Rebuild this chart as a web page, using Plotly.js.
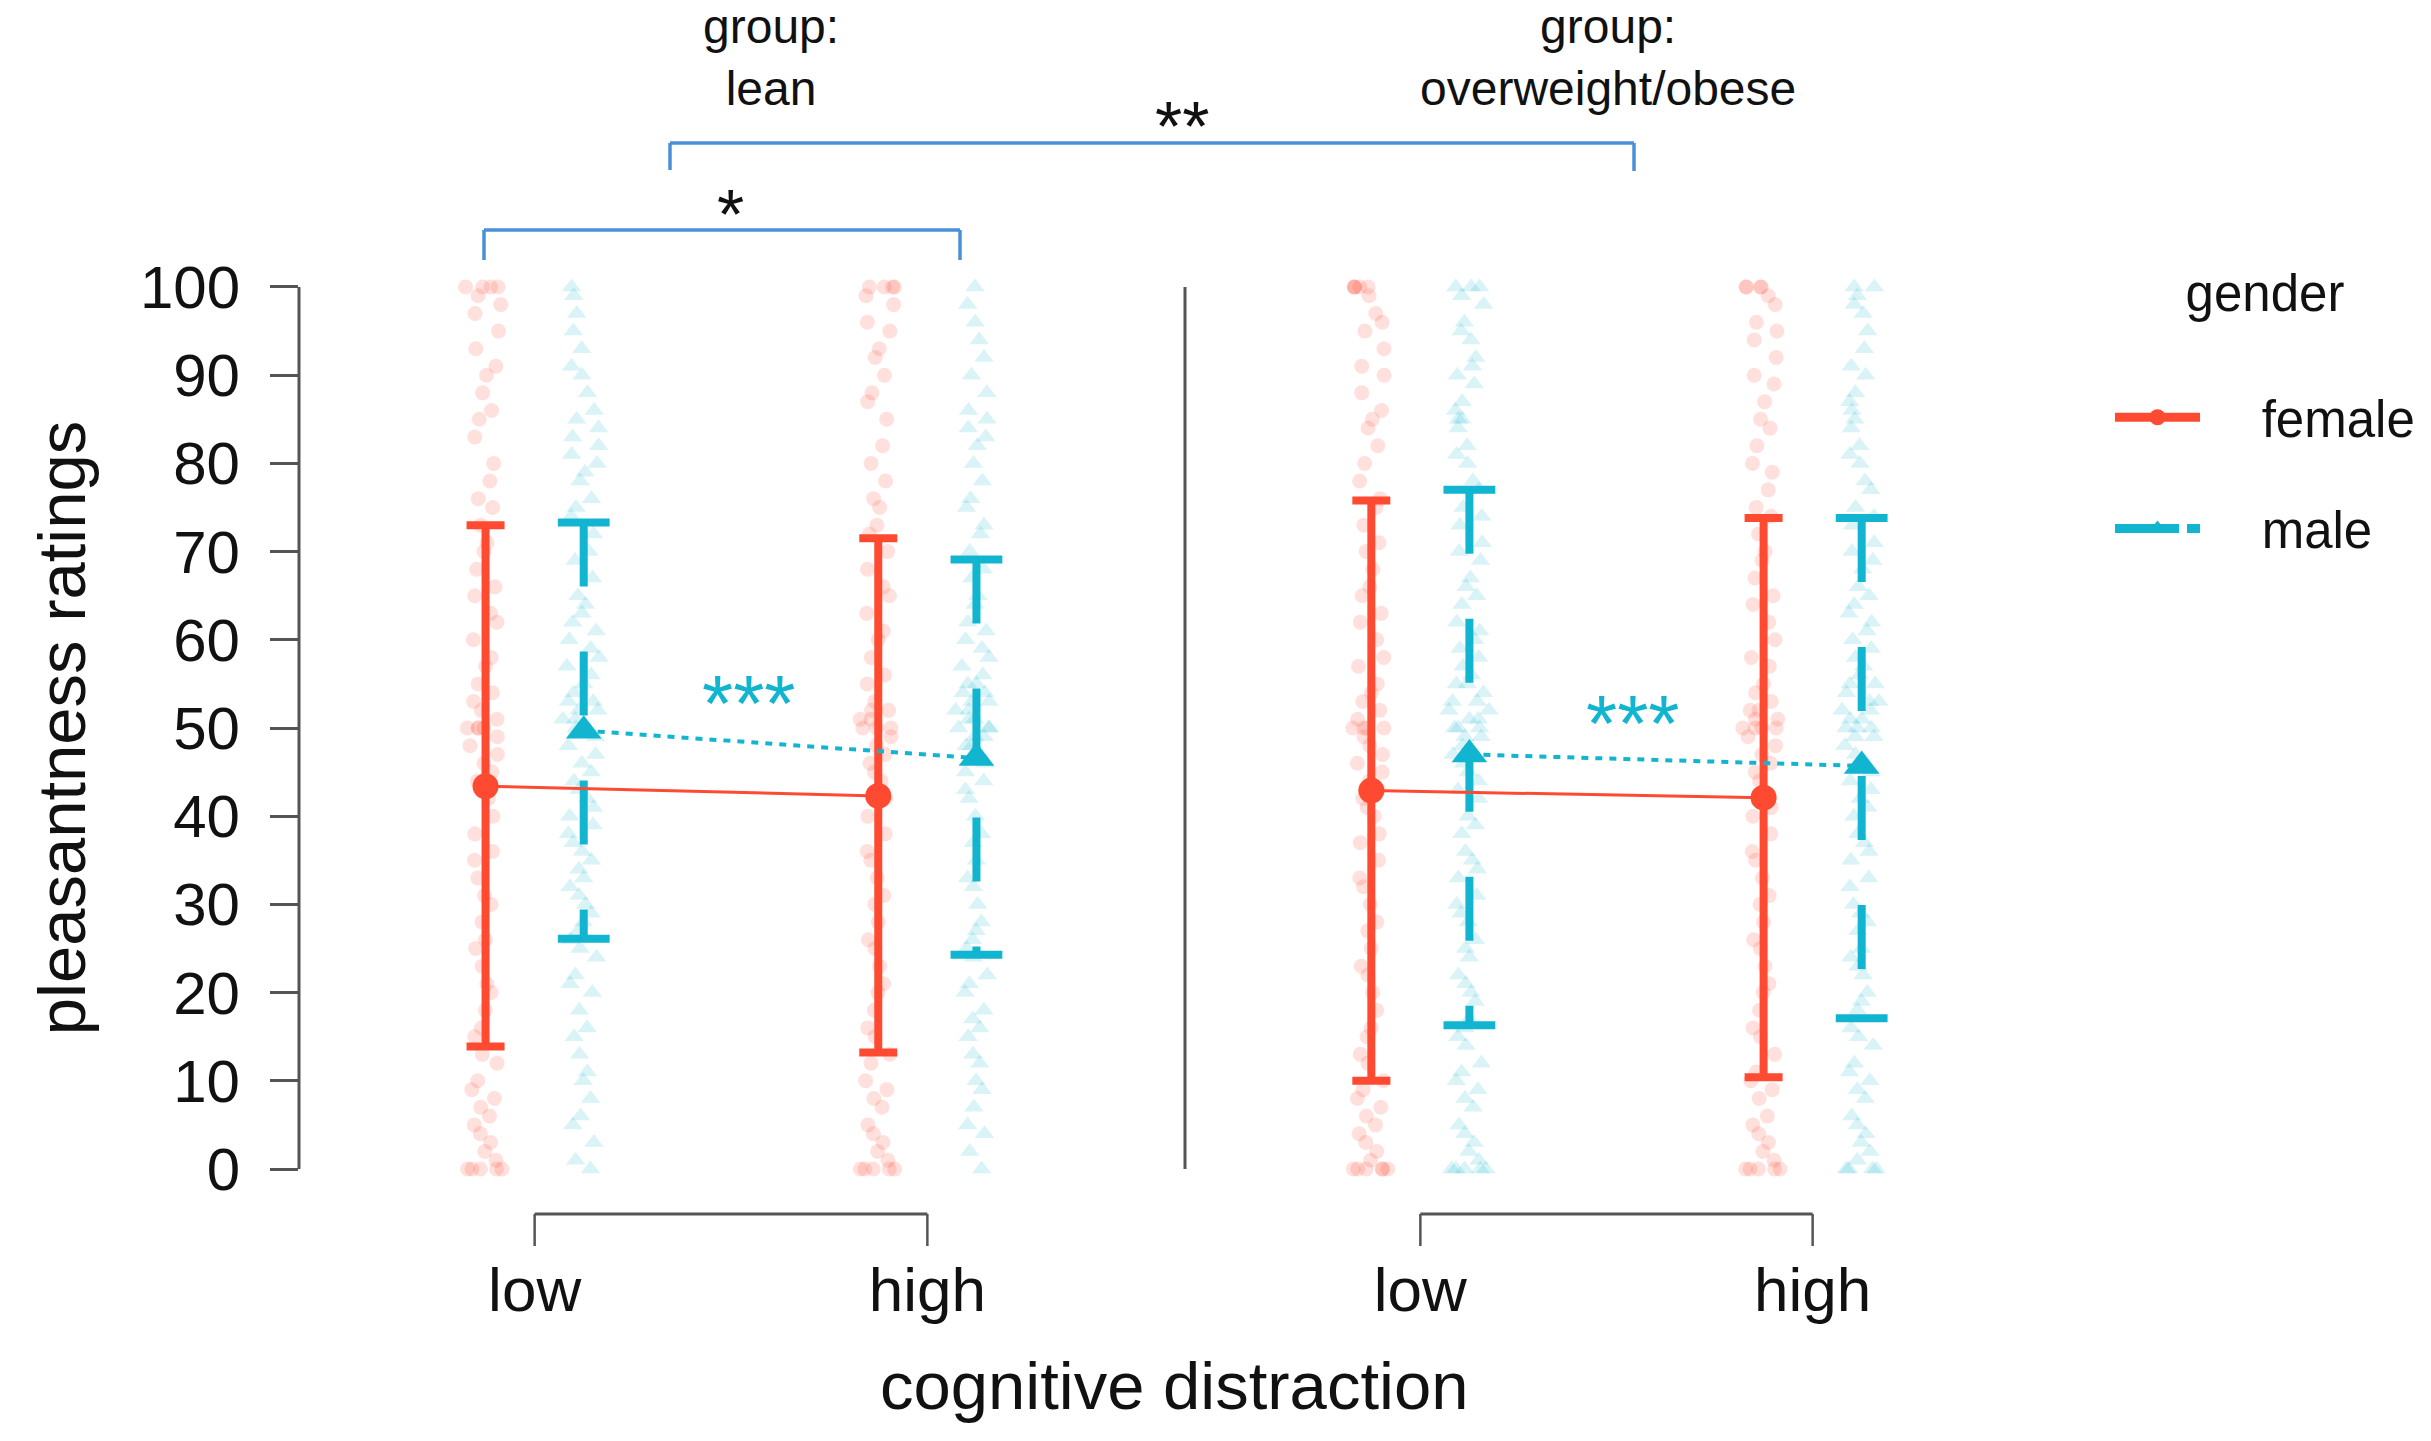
<!DOCTYPE html>
<html>
<head>
<meta charset="utf-8">
<script src="https://cdn.plot.ly/plotly-3.0.1.min.js"></script>
<style>
html,body{margin:0;padding:0;background:#ffffff;}
#chart{width:2431px;height:1441px;}
</style>
</head>
<body>
<div id="chart"></div>
<script>
// ---------- data ----------
const categories = ['low', 'high'];
const catPos = [1, 2];
const panelTitles = ['group:<br>lean', 'group:<br>overweight/obese'];
const yTicks = [0, 10, 20, 30, 40, 50, 60, 70, 80, 90, 100];
const genders = ['female', 'male'];

// means and interval limits, [low, high]
const meanFemaleLean = [43.4, 42.3];
const loFemaleLean = [13.9, 13.2];
const hiFemaleLean = [73.0, 71.5];
const meanMaleLean = [49.7, 46.6];
const loMaleLean = [26.1, 24.3];
const hiMaleLean = [73.3, 69.1];

const meanFemaleObese = [42.9, 42.1];
const loFemaleObese = [10.0, 10.4];
const hiFemaleObese = [75.8, 73.8];
const meanMaleObese = [47.0, 45.7];
const loMaleObese = [16.3, 17.1];
const hiMaleObese = [77.0, 73.8];

// individual ratings (read approximately from the strips)
const ptsFemaleLeanLow = [100,100,100,100,99,98,97,95,93,91,90,88,86,85,83,80,78,76,75,73,71,70,68,66,65,63,62,60,58,57,55,54,53,52,51,50,50,50,50,49,48,47,46,45,44,43,42,40,38,36,35,33,31,30,28,26,25,23,21,20,18,16,15,13,12,10,9,8,7,6,5,4,3,2,1,0,0,0,0,0];
const ptsMaleLeanLow = [100,99,97,95,93,91,90,88,86,85,84,83,82,81,80,79,78,76,75,74,72,70,69,67,65,64,63,62,61,60,59,58,57,56,55,54,53,53,52,52,51,51,50,50,49,48,47,46,45,44,43,42,41,40,39,38,37,36,35,34,33,32,31,30,29,28,27,26,25,24,22,21,20,18,16,15,13,11,10,8,6,5,3,1,0];
const ptsFemaleLeanHigh = [100,100,100,100,99,98,96,95,93,92,90,88,87,85,82,80,78,76,75,73,72,70,68,66,65,63,61,60,58,56,55,53,52,52,51,51,50,50,50,49,48,47,46,45,44,42,40,38,36,35,33,31,30,28,26,25,23,21,20,18,16,15,13,12,10,9,8,7,5,4,3,2,1,0,0,0,0,0];
const ptsMaleLeanHigh = [100,98,96,94,92,90,88,86,85,84,83,82,80,78,76,75,73,72,70,68,67,65,64,62,61,60,59,58,57,56,55,55,54,54,53,53,52,52,51,51,50,50,50,49,49,48,48,47,46,45,44,43,42,40,38,37,35,33,32,30,28,27,26,25,24,22,21,20,18,17,16,15,13,12,10,9,7,5,4,2,0];

const ptsFemaleObeseLow = [100,100,100,100,100,99,97,96,95,93,91,90,88,86,85,84,82,80,78,76,75,73,71,70,68,66,65,63,62,60,58,57,55,54,53,52,51,50,50,50,50,49,48,47,46,45,44,43,42,41,40,38,37,35,33,32,30,28,27,25,23,22,20,18,16,15,13,12,10,9,8,7,6,5,4,3,2,1,0,0,0,0,0,0];
const ptsMaleObeseLow = [100,100,100,99,98,96,95,94,92,91,90,89,87,86,85,85,84,82,81,80,78,77,75,74,73,71,70,69,67,66,65,64,62,61,60,59,58,57,56,55,55,54,53,53,52,52,51,51,50,50,50,49,49,48,47,46,45,44,43,42,40,39,38,36,35,34,33,31,30,29,28,26,25,24,22,21,20,19,17,16,15,14,12,11,10,9,8,7,5,4,3,2,1,0,0,0,0,0];
const ptsFemaleObeseHigh = [100,100,100,100,99,98,96,95,94,92,90,89,87,85,84,82,80,79,77,75,74,72,70,69,67,65,64,62,60,58,57,55,54,53,52,52,51,51,50,50,50,50,49,48,47,46,45,44,42,41,40,38,36,35,33,31,30,28,26,25,23,21,20,18,16,15,13,11,10,9,8,6,5,4,3,2,1,0,0,0,0,0];
const ptsMaleObeseHigh = [100,100,99,98,97,95,93,91,90,88,87,86,85,84,82,81,80,78,77,75,74,73,71,70,69,68,66,65,64,63,62,61,60,59,58,57,56,55,55,54,53,53,52,52,51,51,50,50,50,49,49,48,47,46,45,44,43,42,41,40,38,37,36,35,33,32,30,29,28,27,25,24,23,22,20,19,18,16,15,14,12,11,10,9,8,6,5,4,3,2,1,0,0,0,0];

const sigWithin = '***';
const sigTop = '**';
const sigLower = '*';

// ---------- style ----------
const RED = '#FF4A32';
const CYAN = '#12B5CF';
const BLUE = '#4A90D9';
const AXC = '#555555';
const TXT = '#111111';
const FONT = 'Liberation Sans, Arial, Helvetica, sans-serif';
const DODGE = 0.125;
const W = 2431, H = 1441;
const px = v => v / W;
const py = v => 1 - v / H;
const PAD = '\u00a0\u00a0\u00a0\u00a0';

const traces = [];

function addPanel(xa, fPts, mPts, fMean, fLo, fHi, mMean, mLo, mHi) {
  const fx = catPos.map(p => p - DODGE);
  const mx = catPos.map(p => p + DODGE);
  // jittered raw ratings
  for (let i = 0; i < catPos.length; i++) {
    traces.push({
      type: 'box', x0: fx[i], y: fPts[i], xaxis: xa, yaxis: 'y',
      boxpoints: 'all', jitter: 0.9, pointpos: 0, width: 0.12,
      fillcolor: 'rgba(0,0,0,0)', line: {width: 0, color: 'rgba(0,0,0,0)'},
      marker: {symbol: 'circle', size: 15, color: RED, opacity: 0.17},
      showlegend: false, hoverinfo: 'y'
    });
    traces.push({
      type: 'box', x0: mx[i], y: mPts[i], xaxis: xa, yaxis: 'y',
      boxpoints: 'all', jitter: 0.9, pointpos: 0, width: 0.12,
      fillcolor: 'rgba(0,0,0,0)', line: {width: 0, color: 'rgba(0,0,0,0)'},
      marker: {symbol: 'triangle-up', size: 17, color: CYAN, opacity: 0.16},
      showlegend: false, hoverinfo: 'y'
    });
  }
  // male dashed interval bars
  const bx = [], by = [];
  for (let i = 0; i < catPos.length; i++) {
    bx.push(mx[i], mx[i], null);
    by.push(mHi[i], mLo[i], null);
  }
  traces.push({
    type: 'scatter', mode: 'lines', x: bx, y: by, xaxis: xa, yaxis: 'y',
    line: {color: CYAN, width: 8, dash: '64px,65px'}, showlegend: false, hoverinfo: 'skip'
  });
  // male caps
  const cx = [], cy = [];
  for (let i = 0; i < catPos.length; i++) {
    cx.push(mx[i], mx[i]);
    cy.push(mHi[i], mLo[i]);
  }
  traces.push({
    type: 'scatter', mode: 'markers', x: cx, y: cy, xaxis: xa, yaxis: 'y',
    marker: {symbol: 'line-ew', size: 37, color: CYAN, line: {color: CYAN, width: 8}},
    showlegend: false, hoverinfo: 'y'
  });
  // female means with intervals
  traces.push({
    type: 'scatter', mode: 'lines+markers', x: fx, y: fMean, xaxis: xa, yaxis: 'y',
    line: {color: RED, width: 3},
    marker: {symbol: 'circle', size: 26, color: RED},
    error_y: {type: 'data', symmetric: false,
      array: fHi.map((h, i) => h - fMean[i]),
      arrayminus: fMean.map((m, i) => m - fLo[i]),
      color: RED, thickness: 8, width: 19},
    showlegend: false, legendgroup: genders[0], name: genders[0]
  });
  // male means
  traces.push({
    type: 'scatter', mode: 'lines+markers', x: mx, y: mMean, xaxis: xa, yaxis: 'y',
    line: {color: CYAN, width: 4, dash: '7px,7px'},
    marker: {symbol: 'triangle-up', size: 31, color: CYAN},
    showlegend: false, legendgroup: genders[1], name: genders[1]
  });
}

addPanel('x', [ptsFemaleLeanLow, ptsFemaleLeanHigh], [ptsMaleLeanLow, ptsMaleLeanHigh],
  meanFemaleLean, loFemaleLean, hiFemaleLean, meanMaleLean, loMaleLean, hiMaleLean);
addPanel('x2', [ptsFemaleObeseLow, ptsFemaleObeseHigh], [ptsMaleObeseLow, ptsMaleObeseHigh],
  meanFemaleObese, loFemaleObese, hiFemaleObese, meanMaleObese, loMaleObese, hiMaleObese);

// legend keys
traces.push({type: 'scatter', mode: 'lines+markers', x: [null], y: [null], name: PAD + genders[0],
  legendgroup: genders[0], line: {color: RED, width: 9}, marker: {symbol: 'circle', size: 16, color: RED}});
traces.push({type: 'scatter', mode: 'lines+markers', x: [null], y: [null], name: PAD + genders[1],
  legendgroup: genders[1], line: {color: CYAN, width: 9, dash: '64px,8px'}, marker: {symbol: 'triangle-up', size: 16, color: CYAN}});

// ---------- decorations ----------
const shapes = [];
function seg(x0, y0, x1, y1, color, w, xref, yref) {
  shapes.push({type: 'line', x0, y0, x1, y1, xref, yref, line: {color, width: w}, layer: 'above'});
}
// capped y-axis lines (left axis and panel separator)
seg(0, 0, 0, 100, AXC, 3, 'x domain', 'y');
seg(0, 0, 0, 100, AXC, 3, 'x2 domain', 'y');
// x-axis brackets under each panel
['x', 'x2'].forEach(xr => {
  seg(catPos[0], py(1214), catPos[1], py(1214), AXC, 3, xr, 'paper');
  seg(catPos[0], py(1214), catPos[0], py(1246), AXC, 2.5, xr, 'paper');
  seg(catPos[1], py(1214), catPos[1], py(1246), AXC, 2.5, xr, 'paper');
});
// significance brackets
seg(px(670), py(143), px(1634), py(143), BLUE, 3.5, 'paper', 'paper');
seg(px(670), py(143), px(670), py(170), BLUE, 3.5, 'paper', 'paper');
seg(px(1634), py(143), px(1634), py(171), BLUE, 3.5, 'paper', 'paper');
seg(px(484), py(230), px(960), py(230), BLUE, 3.5, 'paper', 'paper');
seg(px(484), py(230), px(484), py(260), BLUE, 3.5, 'paper', 'paper');
seg(px(960), py(230), px(960), py(260), BLUE, 3.5, 'paper', 'paper');

const annotations = [];
function ann(text, x, y, size, color) {
  annotations.push({text, x: px(x), y: py(y), xref: 'paper', yref: 'paper',
    xanchor: 'center', yanchor: 'middle', showarrow: false,
    font: {family: FONT, size, color}});
}
ann(panelTitles[0], 771, 58, 48, TXT);
ann(panelTitles[1], 1608, 58, 48, TXT);
ann(sigTop, 1182, 127, 70, TXT);
ann(sigLower, 730, 215, 70, TXT);
ann(sigWithin, 748, 704, 80, CYAN);
ann(sigWithin, 1632, 723, 80, CYAN);
ann('cognitive distraction', 1174, 1385, 67, TXT);

const xCommon = {
  range: [0.4, 2.6], tickvals: catPos, ticktext: categories,
  showgrid: false, zeroline: false, showline: false, ticks: '',
  tickfont: {family: FONT, size: 62, color: TXT}, ticklabelstandoff: 44,
  anchor: 'y', fixedrange: true
};

const layout = {
  width: W, height: H,
  margin: {l: 0, r: 0, t: 0, b: 0},
  paper_bgcolor: '#ffffff', plot_bgcolor: 'rgba(0,0,0,0)',
  font: {family: FONT, color: TXT},
  showlegend: true,
  hovermode: false,
  xaxis: Object.assign({domain: [px(299), px(1163)]}, xCommon),
  xaxis2: Object.assign({domain: [px(1185), px(2048)]}, xCommon),
  yaxis: {
    domain: [1 - 1204.3 / H, 1 - 251.7 / H], range: [-4, 104],
    tickvals: yTicks, ticks: 'outside', ticklen: 28, tickwidth: 3, tickcolor: AXC,
    showgrid: false, zeroline: false, showline: false,
    tickfont: {family: FONT, size: 60, color: TXT}, ticklabelstandoff: 18,
    title: {text: 'pleasantness ratings', font: {family: FONT, size: 67, color: TXT}, standoff: 32},
    anchor: 'x', fixedrange: true
  },
  legend: {
    x: px(2110), xanchor: 'left', y: py(245), yanchor: 'top',
    title: {text: 'gender<br>\u00a0', side: 'top center', font: {family: FONT, size: 51, color: TXT}},
    font: {family: FONT, size: 51, color: TXT},
    itemwidth: 85, tracegroupgap: 42, traceorder: 'grouped',
    bgcolor: 'rgba(0,0,0,0)'
  },
  shapes, annotations
};

Plotly.newPlot('chart', traces, layout, {staticPlot: true, displayModeBar: false});
</script>
</body>
</html>
